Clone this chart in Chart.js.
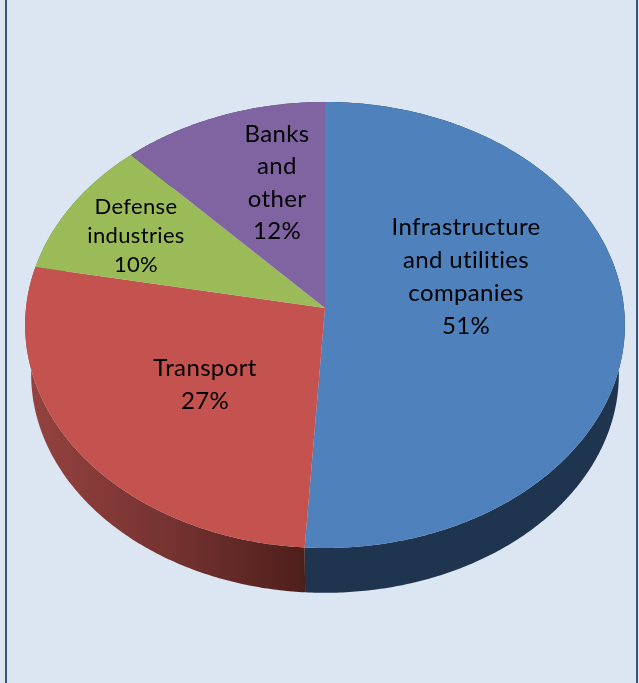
<!DOCTYPE html>
<html>
<head>
<meta charset="utf-8">
<title>Investment by sector</title>
<script src="https://cdn.jsdelivr.net/npm/chart.js@4"></script>
<style>
    html, body { margin: 0; height: 100%; background: #DCE6F2; overflow: hidden; }
    canvas { position: absolute; left: 0; top: 0; }
    .edge { position: absolute; top: 0; bottom: 0; width: 2px; background: #34567F; }
</style>
</head>
<body>
<div class="edge" style="left:5px"></div>
<div class="edge" style="left:636px"></div>
<canvas id="sectorChart" width="639" height="683"></canvas>
<script>
var categories = [
    ['Infrastructure', 'and utilities', 'companies'],
    ['Transport'],
    ['Defense', 'industries'],
    ['Banks', 'and', 'other']
];
var shares = [51, 27, 10, 12];
var topColors = ['#4F81BD', '#C4524E', '#9BBB59', '#8064A2'];

// tilt of the disc: vertical squash and perspective strength
var squash = 0.7415;
var perspective = 0.0762;
var wallDrop = 50;
var wallShrink = 0.98;

// where each slice's text block is centred, and its type size
var labelSpots = [[466, 277, 24, 33], [205, 385, 24, 32.5], [136, 236, 22, 29], [277, 183, 24, 32.5]];

function rimPoint(el, angle, scale, drop) {
    var u = Math.cos(angle) * scale;
    var v = Math.sin(angle) * scale;
    var d = 1 - perspective * v;
    return [el.x + el.outerRadius * u / d, el.y + drop + el.outerRadius * squash * v / d];
}

function traceRim(ctx, el, from, to, scale, drop) {
    var steps = Math.max(2, Math.ceil(Math.abs(to - from) / 0.01));
    for (var i = 0; i <= steps; i++) {
        var p = rimPoint(el, from + (to - from) * i / steps, scale, drop);
        ctx.lineTo(p[0], p[1]);
    }
}

function wallFill(ctx, index) {
    if (index === 1) {
        var g = ctx.createLinearGradient(30, 0, 319, 0);
        g.addColorStop(0, '#94423F');
        g.addColorStop(0.5, '#743230');
        g.addColorStop(1, '#4A1D19');
        return g;
    }
    return ['#1F344F', '', '#5C7035', '#4C3C61'][index];
}

var tiltedPie = {
    id: 'tiltedPie',
    beforeDatasetDraw: function(chart) {
        var ctx = chart.ctx;
        var arcs = chart.getDatasetMeta(0).data;
        ctx.save();
        // side wall goes first so the top surface covers its upper part
        arcs.forEach(function(el, i) {
            ctx.beginPath();
            traceRim(ctx, el, el.startAngle, el.endAngle, 1, 0);
            traceRim(ctx, el, el.endAngle, el.startAngle, wallShrink, wallDrop);
            ctx.closePath();
            ctx.fillStyle = wallFill(ctx, i);
            ctx.fill();
        });
        arcs.forEach(function(el) {
            ctx.beginPath();
            ctx.moveTo(el.x, el.y);
            traceRim(ctx, el, el.startAngle, el.endAngle, 1, 0);
            ctx.closePath();
            ctx.fillStyle = el.options.backgroundColor;
            ctx.fill();
        });
        ctx.restore();
        return false;
    },
    afterDatasetsDraw: function(chart) {
        var ctx = chart.ctx;
        ctx.save();
        ctx.fillStyle = '#000';
        ctx.textAlign = 'center';
        ctx.textBaseline = 'middle';
        // a little tracking also keeps the "ti" pair from joining up
        ctx.letterSpacing = '0.35px';
        categories.forEach(function(lines, i) {
            var spot = labelSpots[i];
            var all = lines.concat(shares[i] + '%');
            ctx.font = spot[2] + 'px Lato';
            all.forEach(function(text, n) {
                ctx.fillText(text, spot[0], spot[1] + (n - (all.length - 1) / 2) * spot[3]);
            });
        });
        ctx.restore();
    }
};

new Chart(document.getElementById('sectorChart').getContext('2d'), {
    type: 'pie',
    data: {
        labels: categories.map(function(c) { return c.join(' '); }),
        datasets: [{
            data: shares,
            backgroundColor: topColors,
            borderWidth: 0
        }]
    },
    options: {
        responsive: false,
        animation: false,
        layout: { padding: { left: 26, right: 15, top: 0, bottom: 67 } },
        plugins: {
            legend: { display: false },
            tooltip: { enabled: false }
        }
    },
    plugins: [tiltedPie]
});
</script>
</body>
</html>
